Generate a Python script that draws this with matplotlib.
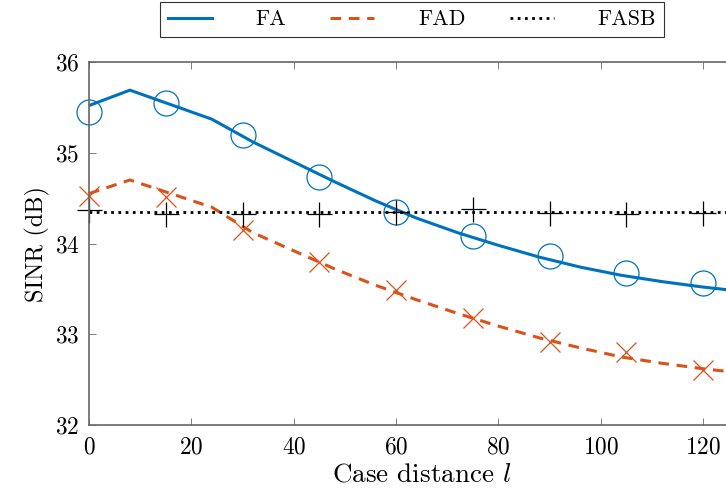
import matplotlib
matplotlib.use("Agg")
import matplotlib.pyplot as plt

# line data
line_x = [0, 8, 24, 32, 40, 48, 56, 64, 72, 80, 88, 96, 104, 112, 120, 128]
fa_line = [35.52, 35.69, 35.37, 35.12, 34.90, 34.68, 34.47, 34.28, 34.12, 33.98, 33.85, 33.74, 33.65, 33.58, 33.52, 33.47]
fad_line = [34.55, 34.70, 34.40, 34.12, 33.92, 33.72, 33.54, 33.38, 33.23, 33.09, 32.96, 32.85, 32.75, 32.68, 32.62, 32.57]
fasb_line = [34.35] * len(line_x)

# marker data
mark_x = [0, 15, 30, 45, 60, 75, 90, 105, 120]
fa_mark = [35.45, 35.55, 35.20, 34.73, 34.35, 34.08, 33.86, 33.67, 33.56]
fad_mark = [34.52, 34.51, 34.15, 33.80, 33.49, 33.18, 32.91, 32.80, 32.61]
fasb_mark = [34.37, 34.33, 34.33, 34.33, 34.35, 34.38, 34.34, 34.33, 34.34]

labels = ["FA", "FAD", "FASB"]
xticks = [0, 20, 40, 60, 80, 100, 120]
yticks = [32, 33, 34, 35, 36]

plt.rcParams['font.family'] = 'serif'
plt.rcParams['font.serif'] = ['cmr10']
plt.rcParams['mathtext.fontset'] = 'cm'
plt.rcParams['axes.formatter.use_mathtext'] = True

blue = '#0072BD'
orange = '#D95319'
FS = 16.8

fig = plt.figure(figsize=(7.26, 4.91), dpi=100)
ax = fig.add_axes([89/726, 66/491, 130*5.117/726, 363/491])

ax.plot(line_x, fa_line, color=blue, lw=2.2, label=labels[0])
ax.plot(line_x, fad_line, color=orange, lw=2.2, ls=(0, (3.5, 2.5)), label=labels[1])
ax.plot(line_x, fasb_line, color='black', lw=2.0, ls=(0, (1, 1.6)), label=labels[2])

ax.plot(mark_x, fa_mark, ls='none', marker='o', ms=18, mfc='none', mec=blue, mew=0.9, clip_on=False)
ax.plot(mark_x, fad_mark, ls='none', marker='x', ms=14, mec=orange, mew=0.9, clip_on=False)
ax.plot(mark_x, fasb_mark, ls='none', marker='+', ms=18, mec='black', mew=0.9, clip_on=False)

ax.set_xlim(0, 130)
ax.set_ylim(32, 36)
ax.set_xticks(xticks)
ax.set_yticks(yticks)
ax.tick_params(direction='in', length=5, width=0.6, color='#666666', labelsize=FS,
               top=True, right=True)
ax.tick_params(axis='x', pad=8)
ax.tick_params(axis='y', pad=7)
for s in ax.spines.values():
    s.set_color('#666666')
    s.set_linewidth(1.2)
ax.set_xlabel('Case distance $l$', fontsize=19.5, labelpad=3)
ax.set_ylabel('SINR (dB)', fontsize=17.5, labelpad=3)

leg = fig.legend(loc='upper center', bbox_to_anchor=(412/726, 1.0), ncol=3, fontsize=15.8,
                 frameon=True, fancybox=False, edgecolor='black', handlelength=2.0,
                 columnspacing=2.0, handletextpad=2.0, borderpad=0.35, borderaxespad=0.1)
leg.get_frame().set_linewidth(0.8)

fig.savefig('out.png', dpi=100)
